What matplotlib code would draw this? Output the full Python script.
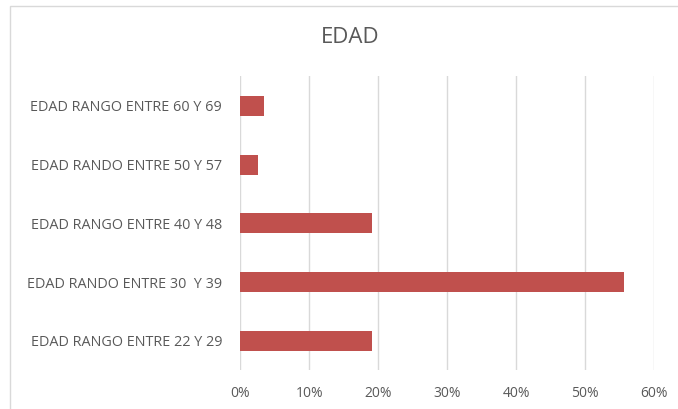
import matplotlib.pyplot as plt
from matplotlib.patches import Rectangle
from matplotlib.ticker import PercentFormatter

# age ranges, bottom to top
rangos = [
    "EDAD RANGO ENTRE 22 Y 29",
    "EDAD RANDO ENTRE 30  Y 39",
    "EDAD RANGO ENTRE 40 Y 48",
    "EDAD RANDO ENTRE 50 Y 57",
    "EDAD RANGO ENTRE 60 Y 69",
]
porcentajes = [0.1913, 0.5565, 0.1913, 0.026, 0.0348]
xticks = [0, 0.1, 0.2, 0.3, 0.4, 0.5, 0.6]

plt.rcParams['font.family'] = ['Open Sans', 'DejaVu Sans']
gris = '#595959'

fig = plt.figure(figsize=(6.78, 4.09), dpi=100)
ax = fig.add_axes([0.3544, 0.0944, 0.6106, 0.7186])

ax.barh(range(len(rangos)), porcentajes, height=0.34, color='#C0504D', zorder=3)

ax.set_xlim(0, 0.6)
ax.set_ylim(-0.5, len(rangos) - 0.5)
ax.set_xticks(xticks)
ax.xaxis.set_major_formatter(PercentFormatter(1.0, decimals=0))
ax.set_yticks(range(len(rangos)))
ax.set_yticklabels(rangos)

ax.grid(axis='x', color='#D9D9D9', linewidth=1, zorder=0)
for s in ax.spines.values():
    s.set_visible(False)
ax.tick_params(axis='both', length=0, labelcolor=gris)
ax.tick_params(axis='y', pad=13, labelsize=10.4)
ax.tick_params(axis='x', pad=11, labelsize=10)

fig.text(0.517, 0.909, "EDAD", ha='center', va='center', fontsize=16, color=gris)

# chart frame
fig.add_artist(Rectangle((10 / 678, -0.1), 1.2, 1 - 6 / 409 + 0.1,
                         transform=fig.transFigure, fill=False,
                         edgecolor='#D9D9D9', linewidth=1))

fig.savefig('out.png', dpi=100)
